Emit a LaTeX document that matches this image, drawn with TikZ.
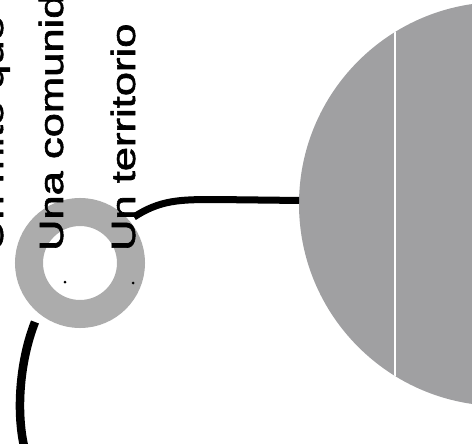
\documentclass[tikz,border=0pt]{standalone}
\usepackage{fontspec}
\setmainfont{Liberation Sans}
\newfontfamily\lblfont[FakeBold=1.6]{Liberation Sans}
\definecolor{ringgray}{RGB}{172,172,172}
\definecolor{biggray}{RGB}{160,160,162}
\begin{document}
\begin{tikzpicture}[x=1pt,y=-1pt,
  lbl/.style={rotate=90, anchor=base west, inner sep=0pt, outer sep=0pt, font=\lblfont\fontsize{33.5}{40}\selectfont},
  conn/.style={line width=7pt, line cap=butt},
  dotmark/.style={circle, fill=black, minimum size=3pt, inner sep=0pt}]
\useasboundingbox (0,0) rectangle (472,444);
\clip (0,0) rectangle (472,444);
% big circle
\node[circle, fill=biggray, minimum size=404pt, inner sep=0pt, outer sep=0pt] (big) at (501,204) {};
\begin{scope}
  \clip (501,204) circle[radius=202];
  \draw[white, line width=1.8pt] (395,0) -- (395,444);
\end{scope}
% ring
\node[circle, draw=ringgray, line width=28pt, minimum size=102pt, inner sep=0pt] (ring) at (80,263) {};
\node[dotmark] (d1) at (65,282) {};
\node[dotmark] (d2) at (133,283) {};
% texts
\node[lbl] (t1) at (3,251) {\scalebox{1.3}[1]{Un mito que}};
\node[lbl] (t2) at (63,251) {\scalebox{1.3}[1]{Una comunidad}};
\node[lbl] (t3) at (135,251) {\scalebox{1.3}[1]{Un territorio}};
% connectors
\coordinate (s1) at (134,217);
\draw[conn] (s1) .. controls (160,200) and (180,199.5) .. (215,199.5) -- (big.179);
\coordinate (b1) at (35,322);
\coordinate (b2) at (24,446);
\draw[conn, line width=8.5pt] (b1) .. controls (20,360) and (16,410) .. (b2);
\end{tikzpicture}
\end{document}
